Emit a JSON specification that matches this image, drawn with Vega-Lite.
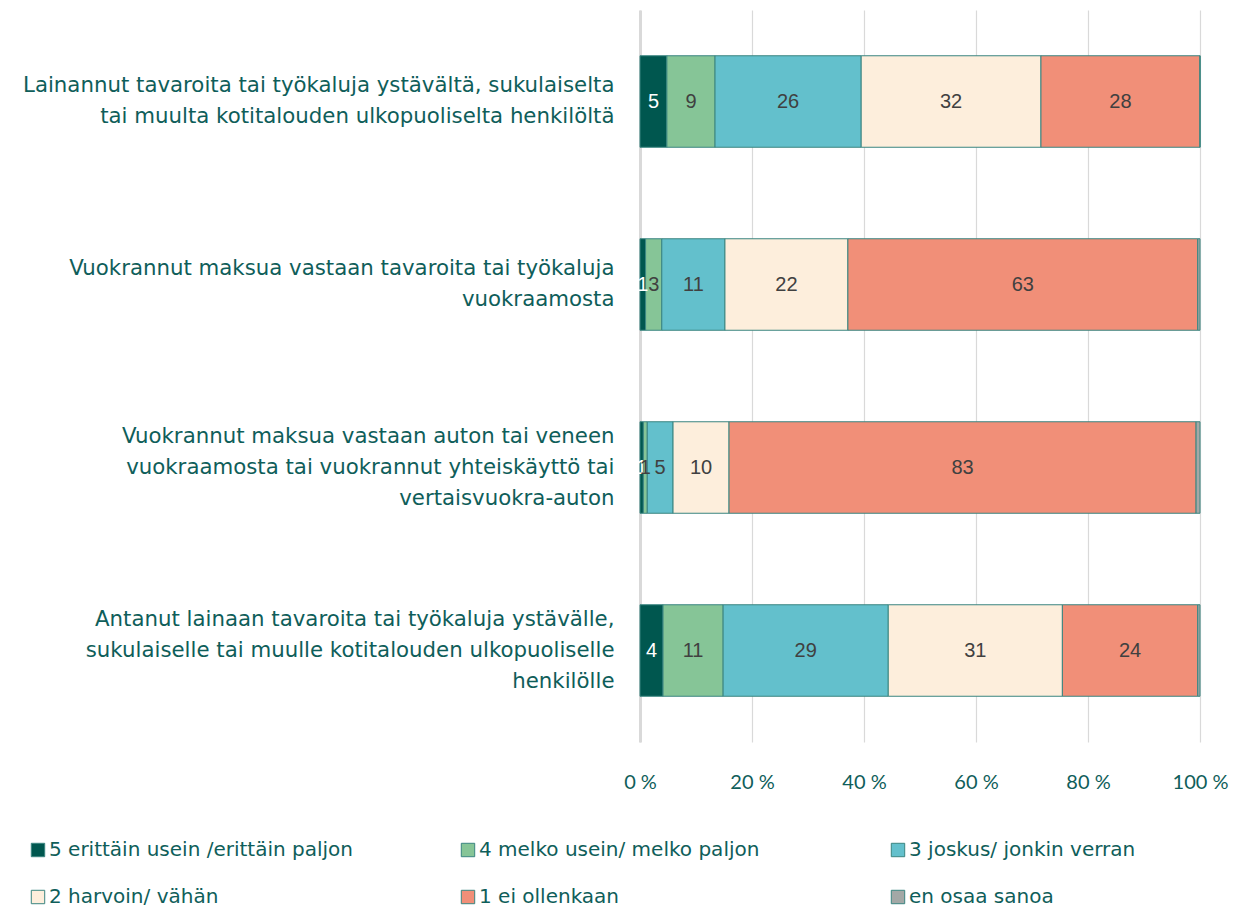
{
  "$schema": "https://vega.github.io/schema/vega-lite/v6.json",
  "width": 560,
  "height": 732,
  "autosize": {"type": "none"},
  "padding": {"left": 640, "top": 10, "right": 55, "bottom": 165},
  "background": "white",
  "config": {"view": {"stroke": null}, "font": "Lato"},
  "data": {
    "values": [
      {"item": "Lainannut tavaroita tai työkaluja ystävältä, sukulaiselta|tai muulta kotitalouden ulkopuoliselta henkilöltä", "cat": "5 erittäin usein /erittäin paljon", "k": 1, "value": 4.8},
      {"item": "Lainannut tavaroita tai työkaluja ystävältä, sukulaiselta|tai muulta kotitalouden ulkopuoliselta henkilöltä", "cat": "4 melko usein/ melko paljon", "k": 2, "value": 8.6},
      {"item": "Lainannut tavaroita tai työkaluja ystävältä, sukulaiselta|tai muulta kotitalouden ulkopuoliselta henkilöltä", "cat": "3 joskus/ jonkin verran", "k": 3, "value": 26.1},
      {"item": "Lainannut tavaroita tai työkaluja ystävältä, sukulaiselta|tai muulta kotitalouden ulkopuoliselta henkilöltä", "cat": "2 harvoin/ vähän", "k": 4, "value": 32.1},
      {"item": "Lainannut tavaroita tai työkaluja ystävältä, sukulaiselta|tai muulta kotitalouden ulkopuoliselta henkilöltä", "cat": "1 ei ollenkaan", "k": 5, "value": 28.4},
      {"item": "Lainannut tavaroita tai työkaluja ystävältä, sukulaiselta|tai muulta kotitalouden ulkopuoliselta henkilöltä", "cat": "en osaa sanoa", "k": 6, "value": 0},
      {"item": "Vuokrannut maksua vastaan tavaroita tai työkaluja|vuokraamosta", "cat": "5 erittäin usein /erittäin paljon", "k": 1, "value": 1.0},
      {"item": "Vuokrannut maksua vastaan tavaroita tai työkaluja|vuokraamosta", "cat": "4 melko usein/ melko paljon", "k": 2, "value": 2.9},
      {"item": "Vuokrannut maksua vastaan tavaroita tai työkaluja|vuokraamosta", "cat": "3 joskus/ jonkin verran", "k": 3, "value": 11.3},
      {"item": "Vuokrannut maksua vastaan tavaroita tai työkaluja|vuokraamosta", "cat": "2 harvoin/ vähän", "k": 4, "value": 22.0},
      {"item": "Vuokrannut maksua vastaan tavaroita tai työkaluja|vuokraamosta", "cat": "1 ei ollenkaan", "k": 5, "value": 62.6},
      {"item": "Vuokrannut maksua vastaan tavaroita tai työkaluja|vuokraamosta", "cat": "en osaa sanoa", "k": 6, "value": 0.4},
      {"item": "Vuokrannut maksua vastaan auton tai veneen|vuokraamosta tai vuokrannut yhteiskäyttö tai|vertaisvuokra-auton", "cat": "5 erittäin usein /erittäin paljon", "k": 1, "value": 0.6},
      {"item": "Vuokrannut maksua vastaan auton tai veneen|vuokraamosta tai vuokrannut yhteiskäyttö tai|vertaisvuokra-auton", "cat": "4 melko usein/ melko paljon", "k": 2, "value": 0.7},
      {"item": "Vuokrannut maksua vastaan auton tai veneen|vuokraamosta tai vuokrannut yhteiskäyttö tai|vertaisvuokra-auton", "cat": "3 joskus/ jonkin verran", "k": 3, "value": 4.6},
      {"item": "Vuokrannut maksua vastaan auton tai veneen|vuokraamosta tai vuokrannut yhteiskäyttö tai|vertaisvuokra-auton", "cat": "2 harvoin/ vähän", "k": 4, "value": 10.0},
      {"item": "Vuokrannut maksua vastaan auton tai veneen|vuokraamosta tai vuokrannut yhteiskäyttö tai|vertaisvuokra-auton", "cat": "1 ei ollenkaan", "k": 5, "value": 83.4},
      {"item": "Vuokrannut maksua vastaan auton tai veneen|vuokraamosta tai vuokrannut yhteiskäyttö tai|vertaisvuokra-auton", "cat": "en osaa sanoa", "k": 6, "value": 0.7},
      {"item": "Antanut lainaan tavaroita tai työkaluja ystävälle,|sukulaiselle tai muulle kotitalouden ulkopuoliselle|henkilölle", "cat": "5 erittäin usein /erittäin paljon", "k": 1, "value": 4.1},
      {"item": "Antanut lainaan tavaroita tai työkaluja ystävälle,|sukulaiselle tai muulle kotitalouden ulkopuoliselle|henkilölle", "cat": "4 melko usein/ melko paljon", "k": 2, "value": 10.7},
      {"item": "Antanut lainaan tavaroita tai työkaluja ystävälle,|sukulaiselle tai muulle kotitalouden ulkopuoliselle|henkilölle", "cat": "3 joskus/ jonkin verran", "k": 3, "value": 29.4},
      {"item": "Antanut lainaan tavaroita tai työkaluja ystävälle,|sukulaiselle tai muulle kotitalouden ulkopuoliselle|henkilölle", "cat": "2 harvoin/ vähän", "k": 4, "value": 31.0},
      {"item": "Antanut lainaan tavaroita tai työkaluja ystävälle,|sukulaiselle tai muulle kotitalouden ulkopuoliselle|henkilölle", "cat": "1 ei ollenkaan", "k": 5, "value": 24.1},
      {"item": "Antanut lainaan tavaroita tai työkaluja ystävälle,|sukulaiselle tai muulle kotitalouden ulkopuoliselle|henkilölle", "cat": "en osaa sanoa", "k": 6, "value": 0.4}
    ]
  },
  "transform": [
    {"stack": "value", "groupby": ["item"], "sort": [{"field": "k", "order": "ascending"}], "offset": "normalize", "as": ["x0", "x1"]},
    {"calculate": "(datum.x0 + datum.x1) / 2", "as": "xm"}
  ],
  "encoding": {
    "y": {
      "field": "item",
      "type": "nominal",
      "sort": null,
      "scale": {"paddingInner": 0.5, "paddingOuter": 0.25},
      "axis": {
        "title": null,
        "labelExpr": "split(datum.label, '|')",
        "labelFont": "DejaVu Sans",
        "labelFontSize": 21.3,
        "labelLineHeight": 31,
        "labelColor": "#0f5e5a",
        "labelPadding": 26,
        "labelLimit": 700,
        "labelOffset": {"condition": {"test": "length(split(datum.label, '|')) > 2", "value": -31}, "value": -15.5},
        "ticks": false,
        "domain": true,
        "domainColor": "#d9d9d9",
        "domainWidth": 3
      }
    }
  },
  "layer": [
    {
      "mark": {"type": "bar", "stroke": "#3a8580", "strokeWidth": 1},
      "encoding": {
        "x": {
          "field": "x0",
          "type": "quantitative",
          "scale": {"domain": [0, 1], "nice": false},
          "axis": {
            "title": null,
            "values": [0, 0.2, 0.4, 0.6, 0.8, 1],
            "labelExpr": "format(datum.value * 100, '.0f') + ' %'",
            "labelFontSize": 20,
            "labelColor": "#0f5e5a",
            "labelPadding": 30,
            "labelFlush": false,
            "domain": false,
            "ticks": false,
            "grid": true,
            "gridColor": "#d9d9d9",
            "gridWidth": 1.2
          }
        },
        "x2": {"field": "x1"},
        "color": {
          "field": "cat",
          "type": "nominal",
          "scale": {
            "domain": ["5 erittäin usein /erittäin paljon", "4 melko usein/ melko paljon", "3 joskus/ jonkin verran", "2 harvoin/ vähän", "1 ei ollenkaan", "en osaa sanoa"],
            "range": ["#00574f", "#86c597", "#63c0cc", "#fdeedc", "#f18f78", "#a3a8a6"]
          },
          "legend": {
            "title": null,
            "orient": "none",
            "legendX": -612,
            "legendY": 830,
            "direction": "horizontal",
            "columns": 3,
            "gridAlign": "all",
            "columnPadding": 104,
            "rowPadding": 27,
            "symbolType": "square",
            "symbolSize": 180,
            "symbolStrokeColor": "#3a8580",
            "symbolStrokeWidth": 1,
            "labelFont": "DejaVu Sans",
            "labelFontSize": 20,
            "labelColor": "#0f5e5a",
            "labelOffset": 1,
            "labelLimit": 500
          }
        }
      }
    },
    {
      "transform": [{"filter": "datum.k < 6 && datum.value > 0"}],
      "mark": {"type": "text", "fontSize": 20, "font": "Liberation Sans"},
      "encoding": {
        "x": {"field": "xm", "type": "quantitative"},
        "text": {"field": "value", "type": "quantitative", "format": ".0f"},
        "color": {"condition": {"test": "datum.k == 1", "value": "white"}, "value": "#404040"}
      }
    }
  ]
}
